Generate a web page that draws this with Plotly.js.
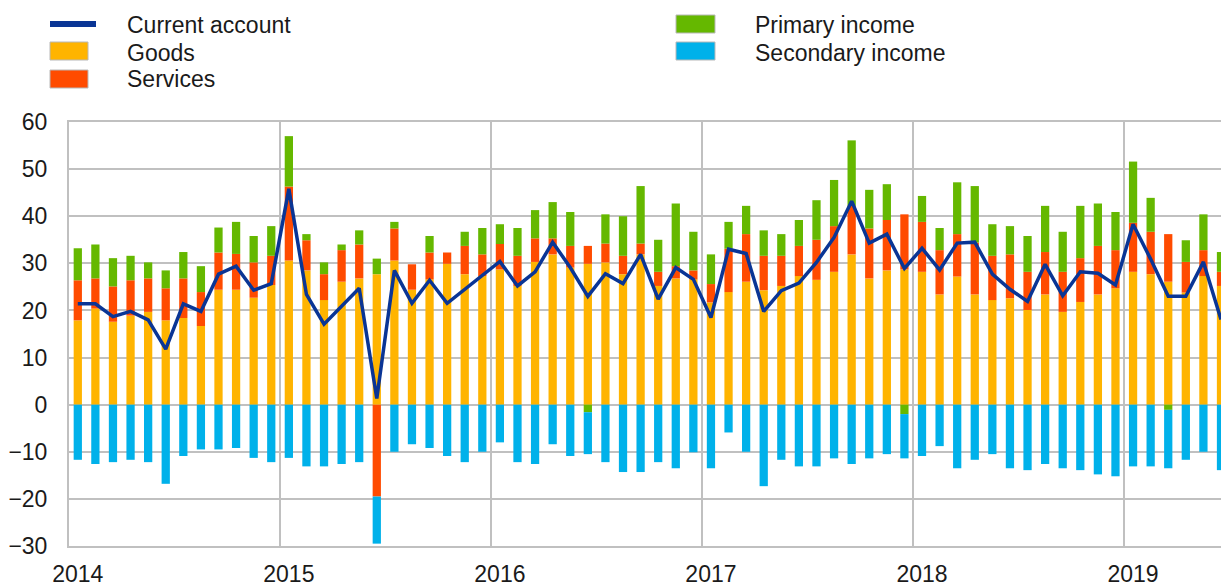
<!DOCTYPE html>
<html>
<head>
<meta charset="utf-8">
<script src="https://cdn.plot.ly/plotly-3.0.1.min.js"></script>
<style>
  html, body { margin: 0; padding: 0; background: #fff; }
  #chart { width: 1221px; height: 587px; }
</style>
</head>
<body>
<div id="chart"></div>
<script>
// Monthly observations, Jan 2014 - Jun 2019 (EUR billions)
const months = [
  '2014-01','2014-02','2014-03','2014-04','2014-05','2014-06','2014-07','2014-08','2014-09','2014-10','2014-11','2014-12',
  '2015-01','2015-02','2015-03','2015-04','2015-05','2015-06','2015-07','2015-08','2015-09','2015-10','2015-11','2015-12',
  '2016-01','2016-02','2016-03','2016-04','2016-05','2016-06','2016-07','2016-08','2016-09','2016-10','2016-11','2016-12',
  '2017-01','2017-02','2017-03','2017-04','2017-05','2017-06','2017-07','2017-08','2017-09','2017-10','2017-11','2017-12',
  '2018-01','2018-02','2018-03','2018-04','2018-05','2018-06','2018-07','2018-08','2018-09','2018-10','2018-11','2018-12',
  '2019-01','2019-02','2019-03','2019-04','2019-05','2019-06'
];
const years = ['2014','2015','2016','2017','2018','2019'];

const goods = [
  17.9,20.4,17.6,18.9,19.7,17.9,18.4,16.7,24.4,24.4,22.7,25.4,
  30.6,28.5,22.2,26.1,26.8,27.7,30.6,24.4,26.6,29.9,27.7,27.3,
  28.7,25.2,30.3,31.9,29.1,29.9,30.2,27.7,31.9,25.2,26.8,26.6,
  21.7,23.9,26.1,24.3,25.2,27.3,26.5,28.2,31.9,26.8,28.5,28.7,
  28.2,23.4,27.2,23.4,22.2,22.6,20.1,23.4,19.7,21.8,23.4,24.7,
  28.2,27.7,26.1,23.8,27.3,25.2
];
const services = [
  8.5,6.4,7.5,7.5,7.1,6.8,8.4,7.2,7.9,7.6,7.5,6.2,
  15.7,6.4,5.5,6.7,7.2,-19.5,6.8,5.4,5.7,2.4,6.0,4.6,
  5.4,6.4,5.0,3.4,4.6,3.8,4.0,3.9,2.3,3.0,2.6,1.9,
  3.9,9.2,10.1,7.3,6.4,6.4,8.5,9.7,10.3,10.6,10.7,11.7,
  10.6,9.4,9.0,11.0,9.4,9.3,8.1,9.0,8.5,9.3,10.3,8.1,
  10.4,9.0,10.1,6.5,5.5,3.0
];
const primaryIncome = [
  6.8,7.2,6.0,5.2,3.4,3.8,5.6,5.5,5.3,6.8,5.6,6.3,
  10.7,1.3,2.5,1.2,3.0,3.3,1.4,0.0,3.5,0.0,3.0,5.6,
  4.2,5.9,6.0,7.7,7.2,-1.6,6.2,8.4,12.2,6.8,13.3,8.2,
  6.3,5.7,6.0,5.4,4.6,5.5,8.4,9.8,13.9,8.2,7.6,-2.0,
  5.5,4.7,11.0,12.0,6.7,6.0,7.6,9.8,8.5,11.1,9.0,8.1,
  13.0,7.2,-1.1,4.6,7.6,4.2
];
const secondaryIncome = [
  -11.7,-12.6,-12.2,-11.7,-12.2,-16.8,-10.9,-9.5,-9.5,-9.2,-11.3,-12.2,
  -11.3,-13.1,-13.1,-12.6,-12.2,-10.0,-10.0,-8.4,-9.2,-10.9,-12.2,-10.0,
  -8.0,-12.2,-12.6,-8.4,-10.9,-8.9,-12.2,-14.3,-14.3,-12.2,-13.5,-10.1,
  -13.5,-5.9,-10.0,-17.3,-11.7,-13.1,-13.1,-11.4,-12.6,-11.4,-10.5,-9.4,
  -10.9,-8.8,-13.5,-11.7,-10.5,-13.5,-13.9,-12.6,-13.5,-13.9,-14.8,-15.2,
  -13.1,-13.1,-12.4,-11.7,-10.0,-13.9
];
const currentAccount = [
  21.4,21.4,18.7,19.8,18.0,11.8,21.4,19.8,27.7,29.4,24.3,25.7,
  45.8,23.4,17.1,21.0,24.7,1.3,28.5,21.5,26.4,21.5,24.4,27.3,
  30.4,25.2,28.2,34.5,29.1,23.0,27.8,25.7,31.9,22.4,29.1,26.6,
  18.5,33.0,32.1,19.8,24.2,25.8,30.2,35.5,43.2,34.3,36.2,28.9,
  33.2,28.6,34.3,34.5,27.7,24.5,21.9,29.8,23.1,28.2,27.9,25.4,
  38.3,30.9,23.0,23.0,30.3,18.1
];

const colors = {
  ca: '#0a3595',
  goods: '#ffb400',
  services: '#ff4b00',
  primary: '#65b800',
  secondary: '#00b1ea'
};

const x = months.map((_, i) => i);

function barTrace(name, y, color) {
  return {
    type: 'bar', name: name, x: x, y: y,
    customdata: months,
    marker: { color: color, line: { width: 0 } },
    hovertemplate: '%{customdata}: %{y}<extra>' + name + '</extra>',
    showlegend: false
  };
}

const traces = [
  barTrace('Goods', goods, colors.goods),
  barTrace('Services', services, colors.services),
  barTrace('Primary income', primaryIncome, colors.primary),
  barTrace('Secondary income', secondaryIncome, colors.secondary),
  {
    type: 'scatter', mode: 'lines', name: 'Current account',
    x: x, y: currentAccount, customdata: months,
    line: { color: colors.ca, width: 3.5 },
    hovertemplate: '%{customdata}: %{y}<extra>Current account</extra>',
    showlegend: false
  }
];

// plot area geometry in pixels
const W = 1221, H = 587;
const M = { l: 69, r: 0, t: 122, b: 41 };
const pw = W - M.l - M.r, ph = H - M.t - M.b;
const px = v => (v - M.l) / pw;
const py = v => (H - M.b - v) / ph;

const FONT = 'Liberation Sans, Arial, sans-serif';
const TXT = '#1a1a1a';

// manual legend
const legendItems = [
  { label: 'Current account', color: colors.ca, kind: 'line', x0: 50, x1: 96, yc: 24, ty: 25, tx: 125 },
  { label: 'Goods', color: colors.goods, kind: 'rect', x0: 50, x1: 88, yc: 51, ty: 53, tx: 125 },
  { label: 'Services', color: colors.services, kind: 'rect', x0: 50, x1: 88, yc: 79, ty: 79, tx: 125 },
  { label: 'Primary income', color: colors.primary, kind: 'rect', x0: 676, x1: 715, yc: 24, ty: 25, tx: 753 },
  { label: 'Secondary income', color: colors.secondary, kind: 'rect', x0: 676, x1: 715, yc: 51, ty: 53, tx: 753 }
];
const shapes = [];
const annotations = [];
legendItems.forEach(it => {
  if (it.kind === 'line') {
    shapes.push({ type: 'line', xref: 'paper', yref: 'paper',
      x0: px(it.x0), x1: px(it.x1), y0: py(it.yc), y1: py(it.yc),
      line: { color: it.color, width: 6 } });
  } else {
    shapes.push({ type: 'rect', xref: 'paper', yref: 'paper',
      x0: px(it.x0), x1: px(it.x1), y0: py(it.yc - 9), y1: py(it.yc + 9),
      fillcolor: it.color, line: { color: '#b8b8b8', width: 1 } });
  }
  annotations.push({ xref: 'paper', yref: 'paper', x: px(it.tx), y: py(it.ty),
    xanchor: 'left', yanchor: 'middle', showarrow: false, text: it.label,
    font: { family: FONT, size: 23, color: TXT } });
});

const layout = {
  width: W, height: H,
  margin: M,
  paper_bgcolor: '#ffffff', plot_bgcolor: '#ffffff',
  barmode: 'relative',
  bargap: 0.53,
  showlegend: false,
  font: { family: FONT, size: 23, color: TXT },
  xaxis: {
    range: [-0.5, 65.0],
    tickmode: 'array',
    tickvals: years.map((_, k) => 12 * k),
    ticktext: years,
    showgrid: false,
    zeroline: false,
    ticks: 'outside', ticklen: 6, tickcolor: 'rgba(0,0,0,0)',
    showline: true, linecolor: '#c0c0c0', linewidth: 2, mirror: true,
    minor: {
      tickmode: 'array',
      tickvals: years.slice(1).map((_, k) => 12 * (k + 1) - 0.5),
      showgrid: true, gridcolor: '#c0c0c0', gridwidth: 2, ticks: ''
    },
    tickfont: { family: FONT, size: 23, color: TXT },
    fixedrange: true
  },
  yaxis: {
    range: [-30, 60],
    tickmode: 'linear', tick0: 0, dtick: 10,
    showgrid: true, gridcolor: '#c0c0c0', gridwidth: 2,
    zeroline: false,
    ticks: 'outside', ticklen: 15, tickcolor: 'rgba(0,0,0,0)',
    showline: true, linecolor: '#c0c0c0', linewidth: 2, mirror: true,
    tickfont: { family: FONT, size: 23, color: TXT },
    fixedrange: true
  },
  shapes: shapes,
  annotations: annotations
};

Plotly.newPlot('chart', traces, layout, { displayModeBar: false, staticPlot: true });
</script>
</body>
</html>
